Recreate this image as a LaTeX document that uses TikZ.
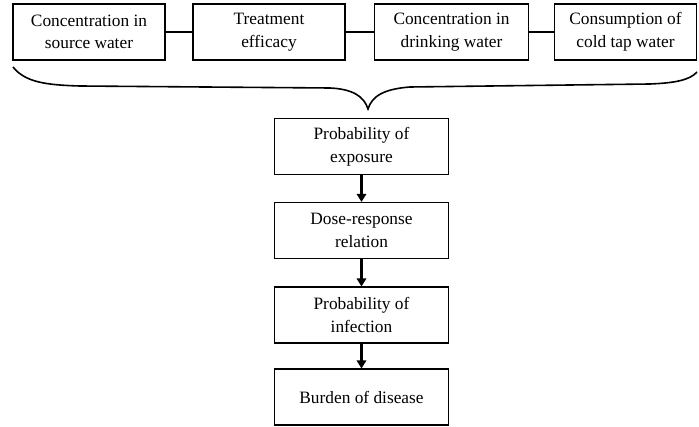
\documentclass[tikz,border=0pt]{standalone}
\usepackage{fontspec}
\setmainfont{Liberation Serif}
\newfontfamily\boxfont{Liberation Serif}
\usetikzlibrary{arrows.meta,positioning}

\tikzset{
  topbox/.style={draw, line width=0.8pt, align=center, minimum height=42pt, inner sep=0pt},
  chainbox/.style={draw, line width=0.8pt, align=center, minimum width=131pt, minimum height=42pt, inner sep=0pt},
  link/.style={line width=1.2pt},
  flow/.style={line width=2.2pt, -{Triangle[length=6pt,width=7pt]}}
}

\begin{document}
\begin{tikzpicture}[x=0.75pt, y=-0.75pt, font=\boxfont\fontsize{13}{17}\selectfont]
 \useasboundingbox (0,0) rectangle (699,427);

 %top row
 \node[topbox, minimum width=114pt] (src) at (89,32) {Concentration in\\source water};
 \node[topbox, minimum width=114pt] (treat) at (269,32) {Treatment\\efficacy};
 \node[topbox, minimum width=116pt] (drink) at (451.5,32) {Concentration in\\drinking water};
 \node[topbox, minimum width=107pt] (consume) at (625.5,32) {Consumption of\\cold tap water};

 %links
 \draw[link] (src.east) -- (treat.west);
 \draw[link] (treat.east) -- (drink.west);
 \draw[link] (drink.east) -- (consume.west);

 %brace
 \coordinate (bl) at (13,67);
 \coordinate (tip) at (368,109);
 \coordinate (br) at (697,72);
 \draw[line width=1.2pt] (bl) .. controls (25,82) and (45,85) .. (80,86) -- (330,88)
   .. controls (352,89) and (364,96) .. (tip)
   .. controls (372,96) and (384,89) .. (410,87) -- (650,84)
   .. controls (675,83) and (690,80) .. (br);

 %chain
 \node[chainbox] (expo) at (361.5,146.5) {Probability of\\exposure};
 \node[chainbox] (dose) at (361.5,230.5) {Dose-response\\relation};
 \node[chainbox] (infect) at (361.5,315) {Probability of\\infection};
 \node[chainbox] (burden) at (361.5,397) {Burden of disease};

 %arrows
 \draw[flow] (expo) -- (dose);
 \draw[flow] (dose) -- (infect);
 \draw[flow] (infect) -- (burden);
\end{tikzpicture}
\end{document}
